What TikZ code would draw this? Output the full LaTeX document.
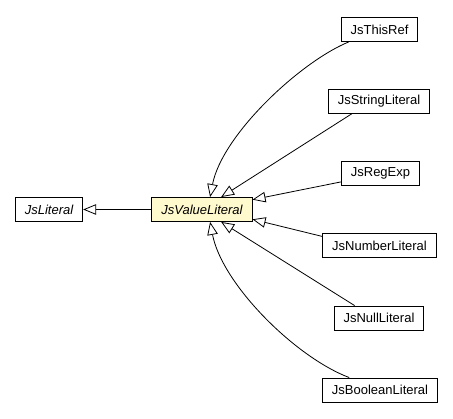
\documentclass[tikz,border=0pt]{standalone}
\usepackage{fontspec}
\setmainfont{Liberation Sans}
\usetikzlibrary{arrows.meta}
\definecolor{notefill}{HTML}{FFFACD}

\begin{document}
\begin{tikzpicture}[x=1pt,y=-1pt,
            cls/.style={draw=black,line width=0.9pt,fill=white,minimum height=24pt,inner xsep=9.5pt,inner ysep=0pt,font=\fontsize{13}{15}\selectfont},
            abscls/.style={cls,font=\fontsize{13}{15}\selectfont\itshape},
            inh/.style={line width=0.8pt,-{Triangle[open,length=13pt,width=10.5pt,fill=white]}}]
            \useasboundingbox (0,0) rectangle (453,419);
            \draw (49,209.5) node[abscls] (lit) {JsLiteral};
            \draw (202,209.5) node[abscls,fill=notefill] (val) {JsValueLiteral};
            \draw (379.5,29.5) node[cls] (this) {JsThisRef};
            \draw (379,101) node[cls] (str) {JsStringLiteral};
            \draw (380.5,173.5) node[cls] (reg) {JsRegExp};
            \draw (379.5,245.5) node[cls] (num) {JsNumberLiteral};
            \draw (379,318) node[cls] (nul) {JsNullLiteral};
            \draw (380,390) node[cls] (bool) {JsBooleanLiteral};
            \draw[inh] (val) -- (lit);
            \draw[inh] (this.202) .. controls (300,62) and (222,135) .. (val.57);
            \draw[inh] (str.205) -- (val.33);
            \draw[inh] (reg.192) -- (val.11);
            \draw[inh] (num.171) -- (val.-11);
            \draw[inh] (nul.153) -- (val.-33);
            \draw[inh] (bool.158) .. controls (295,357) and (222,284) .. (val.-57);
        \end{tikzpicture}
\end{document}
